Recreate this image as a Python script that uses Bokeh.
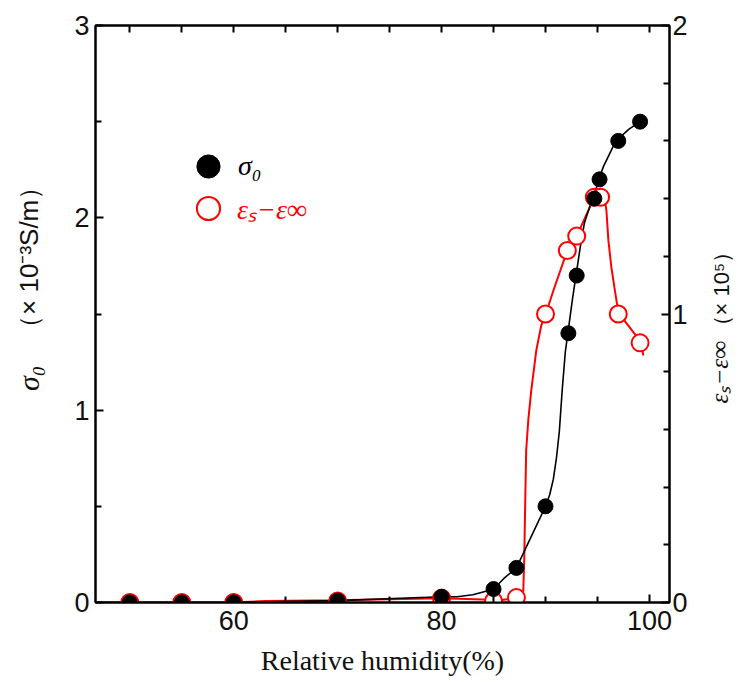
import math
from bokeh.plotting import figure
from bokeh.models import Range1d, LinearAxis, FixedTicker, Legend, LegendItem, Label
from bokeh.embed import file_html
from bokeh.resources import INLINE

# ---- data ----
# sigma_0 (x 10^-3 S/m), left axis
rh_sigma = [50, 55, 60, 70, 80, 85, 87.2, 90, 92.2, 93, 94.7, 95.2, 97, 99.1]
sigma0 = [0, 0, 0, 0.01, 0.03, 0.07, 0.18, 0.5, 1.4, 1.7, 2.1, 2.2, 2.4, 2.5]
# eps_s - eps_inf (x 10^5), right axis
rh_eps = [50, 55, 60, 70, 80, 85, 87.2, 90, 92.1, 93, 94.7, 95.3, 97, 99.1]
deps = [0, 0, 0, 0.005, 0.015, 0.005, 0.017, 1.0, 1.22, 1.27, 1.405, 1.405, 1.0, 0.9]

# smooth guide curves
sig_curve_x = [46.7, 50, 60, 70, 80, 81.5, 83, 84, 85, 86, 87.2, 88.6, 90, 90.4, 90.75,
               91.05, 91.33, 91.6, 91.9, 92.2, 92.6, 92.96, 93.35, 93.73, 94.2, 94.7, 95.18,
               95.6, 96.05, 96.5, 97.0, 98.0, 99.1]
sig_curve_y = [0, 0, 0, 0.01, 0.03, 0.03, 0.04, 0.055, 0.07, 0.125, 0.18, 0.34, 0.5, 0.56, 0.64,
               0.75, 0.89, 1.1, 1.3, 1.42, 1.58, 1.71, 1.85, 1.97, 2.05, 2.12, 2.21,
               2.27, 2.32, 2.37, 2.41, 2.46, 2.5]
eps_curve_x = [46.7, 50, 55, 60, 63, 70, 80, 84, 85, 86.5, 87.2, 87.86, 87.95, 88.05, 88.14,
               88.34, 88.63, 89.11, 89.59, 90.07, 90.84, 92.1, 93, 94.7, 95.3, 95.66, 95.86,
               96.05, 96.34, 96.63, 97.01, 99.13, 99.42]
eps_curve_y = [0, 0, 0, 0, 0.005, 0.008, 0.015, 0.01, 0.005, 0.012, 0.017, 0.04, 0.146, 0.354,
               0.527, 0.631, 0.735, 0.873, 0.96, 1.005, 1.09, 1.22, 1.27, 1.405, 1.405, 1.404,
               1.359, 1.255, 1.161, 1.092, 1.005, 0.905, 0.856]

x_major = [60, 80, 100]
x_minor = [50, 55, 65, 70, 75, 85, 90, 95]
yl_major = [0, 1, 2, 3]
yl_minor = [0.5, 1.5, 2.5]
yr_major = [0, 1, 2]
yr_minor = [0.2, 0.4, 0.6, 0.8, 1.2, 1.4, 1.6, 1.8]

p = figure(width=742, height=680, x_range=Range1d(46.7, 101.93), y_range=Range1d(0, 3),
           output_backend="svg", toolbar_location=None,
           x_axis_location=None, y_axis_location=None,
           min_border_left=95, min_border_right=67, min_border_top=25, min_border_bottom=78)
p.extra_y_ranges = {"r": Range1d(0, 2)}
p.grid.visible = False
p.outline_line_color = "black"
p.outline_line_width = 2
p.background_fill_color = "white"
p.border_fill_color = "white"


def style(ax, standoff):
    ax.axis_line_width = 2
    ax.major_tick_in = 8
    ax.major_tick_out = 0
    ax.minor_tick_in = 6
    ax.minor_tick_out = 0
    ax.major_tick_line_width = 2
    ax.minor_tick_line_width = 2
    ax.major_label_standoff = standoff
    ax.major_label_text_font = "Liberation Sans"
    ax.major_label_text_color = "#111111"
    ax.major_label_text_font_size = "27px"
    ax.axis_label_text_color = "#111111"
    ax.axis_label_text_font_style = "normal"


bx = LinearAxis(ticker=FixedTicker(ticks=x_major, minor_ticks=x_minor))
style(bx, 8)
bx.axis_label = "Relative humidity(%)"
bx.axis_label_text_font = "Liberation Serif"
bx.axis_label_text_font_size = "28px"
bx.axis_label_standoff = 12
p.add_layout(bx, "below")

# top frame edge: ticks only, no labels
tx = LinearAxis(ticker=FixedTicker(ticks=[], minor_ticks=sorted(x_major + x_minor)))
style(tx, 0)
tx.minor_tick_in = 7
p.add_layout(tx, "above")

ly = LinearAxis(ticker=FixedTicker(ticks=yl_major, minor_ticks=yl_minor))
style(ly, 6)
p.add_layout(ly, "left")

ry = LinearAxis(y_range_name="r", ticker=FixedTicker(ticks=yr_major, minor_ticks=yr_minor))
style(ry, 3)
p.add_layout(ry, "right")

# rotated axis titles (mixed fonts), placed in the side panels so they are not clipped
rot = dict(angle=math.pi / 2, text_align="left", text_baseline="alphabetic",
           text_color="#111111")
p.add_layout(Label(x=40.30, y=1.10, text="σ₀", text_font="Liberation Serif",
                   text_font_style="italic", text_font_size="30px", **rot), "left")
p.add_layout(Label(x=40.30, y=1.36, text="（× 10⁻³S/m）", text_font="Liberation Sans",
                   text_font_size="26px", **rot), "left")
p.add_layout(Label(x=106.75, y=1.035, text="εₛ−ε∞", text_font="Liberation Serif",
                   text_font_style="italic", text_font_size="25px", **rot), "right")
p.add_layout(Label(x=106.95, y=1.378, text="（× 10⁵）", text_font="Liberation Sans",
                   text_font_size="22px", **rot), "right")

p.line(eps_curve_x, eps_curve_y, y_range_name="r", line_color="red", line_width=2)
p.line(sig_curve_x, sig_curve_y, line_color="black", line_width=1.6)
rdots = p.scatter(rh_eps, deps, y_range_name="r", marker="circle", size=17,
                  fill_color="white", line_color="red", line_width=2)
bdots = p.scatter(rh_sigma, sigma0, marker="circle", size=15,
                  fill_color="black", line_color="black")

common = dict(border_line_color=None, background_fill_alpha=0, padding=0, margin=0, spacing=0,
              glyph_width=58, glyph_height=58, label_text_font="Liberation Serif",
              label_text_font_style="italic", label_text_font_size="28px")
leg1 = Legend(items=[LegendItem(label="σ₀", renderers=[bdots])], location=(84, 407),
              label_standoff=1, label_text_color="black", **common)
leg2 = Legend(items=[LegendItem(label="εₛ−ε∞", renderers=[rdots])], location=(84, 365),
              label_standoff=0, label_text_color="red", **common)
p.add_layout(leg1)
p.add_layout(leg2)

open("out.html", "w").write(file_html(p, INLINE))
